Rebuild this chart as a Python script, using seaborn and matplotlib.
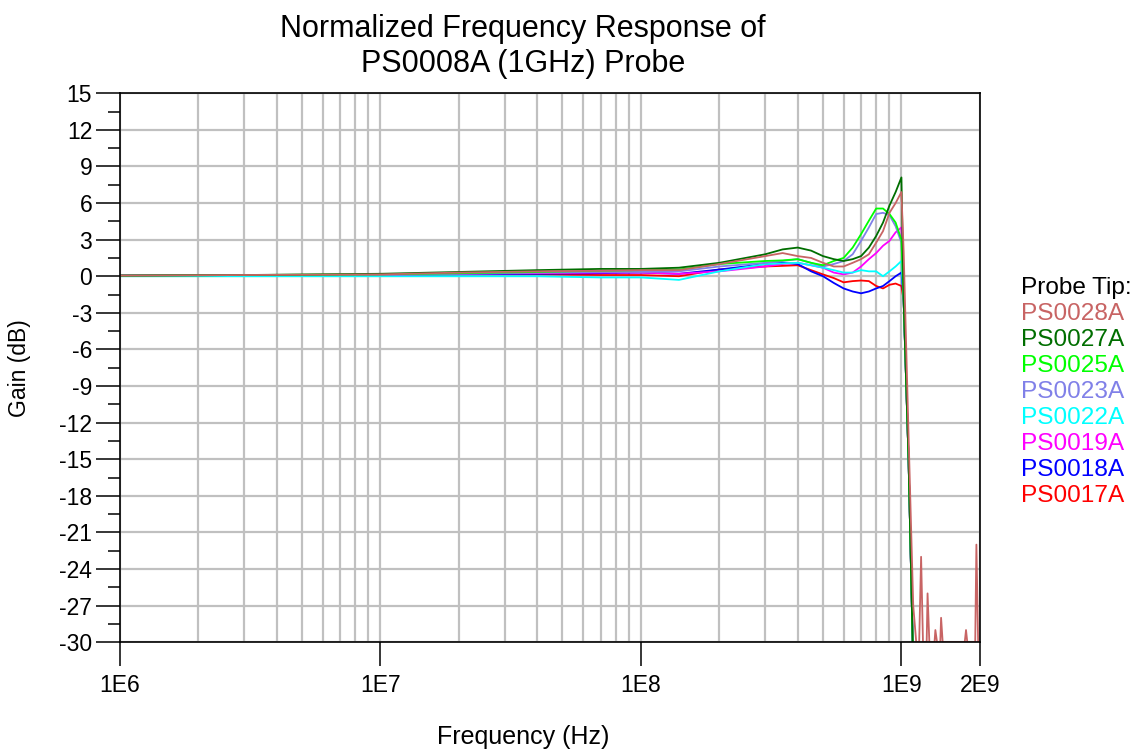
import pandas as pd
import matplotlib
matplotlib.use("Agg")
import matplotlib.pyplot as plt
import matplotlib.ticker as mticker
import seaborn as sns

# frequency points (Hz) shared by all probe tips
freq_hz = [1e6, 3e6, 1e7, 2e7, 4e7, 7e7, 1e8, 1.4e8, 2e8, 3e8, 3.5e8, 4e8, 4.5e8,
           5e8, 5.5e8, 6e8, 6.5e8, 7e8, 7.5e8, 8e8, 8.5e8, 9e8, 9.5e8, 1e9,
           1.02e9, 1.065e9, 1.11e9]

# gain (dB)
gain_ps0028a = [0.05, 0.1, 0.15, 0.3, 0.4, 0.45, 0.5, 0.5, 1.0, 1.65, 1.9, 1.65, 1.5,
                1.1, 0.8, 0.8, 1.1, 1.4, 1.8, 2.75, 3.7, 5.2, 6.0, 6.9,
                2.0, -13.0, -27.0]
gain_ps0027a = [0.05, 0.1, 0.2, 0.35, 0.5, 0.6, 0.6, 0.7, 1.1, 1.8, 2.2, 2.35, 2.1,
                1.65, 1.4, 1.25, 1.4, 1.65, 2.35, 3.3, 4.4, 5.8, 6.9, 8.1,
                -2.0, -15.0, -32.0]
gain_ps0025a = [0.05, 0.1, 0.15, 0.25, 0.35, 0.45, 0.5, 0.55, 1.0, 1.25, 1.3, 1.4, 1.1,
                0.9, 1.25, 1.5, 2.35, 3.45, 4.55, 5.55, 5.55, 5.1, 4.4, 3.0,
                -2.0, -15.0, -32.0]
gain_ps0023a = [0.05, 0.1, 0.1, 0.2, 0.3, 0.35, 0.35, 0.4, 0.8, 1.1, 1.25, 1.4, 1.1,
                0.8, 1.0, 1.25, 1.8, 2.9, 4.0, 5.1, 5.2, 5.0, 4.1, 2.75,
                -2.0, -15.0, -32.0]
gain_ps0022a = [0.0, 0.0, 0.0, 0.0, 0.0, -0.1, -0.1, -0.3, 0.4, 1.0, 1.05, 1.1, 0.9,
                0.7, 0.5, 0.3, 0.3, 0.5, 0.4, 0.4, 0.0, 0.4, 0.8, 1.25,
                -2.0, -15.0, -32.0]
gain_ps0019a = [0.05, 0.1, 0.1, 0.2, 0.25, 0.3, 0.3, 0.2, 0.4, 0.8, 1.0, 1.1, 0.9,
                0.7, 0.3, 0.15, 0.3, 0.8, 1.4, 1.9, 2.5, 2.9, 3.6, 4.0,
                -2.0, -15.0, -32.0]
gain_ps0018a = [0.05, 0.1, 0.1, 0.15, 0.2, 0.25, 0.3, 0.2, 0.55, 1.0, 1.1, 1.0, 0.4,
                0.0, -0.55, -1.0, -1.25, -1.4, -1.25, -1.0, -0.8, -0.4, 0.0, 0.3,
                -2.0, -15.0, -32.0]
gain_ps0017a = [0.05, 0.05, 0.1, 0.15, 0.15, 0.1, 0.1, 0.0, 0.55, 0.8, 0.85, 0.9, 0.5,
                0.15, -0.15, -0.5, -0.4, -0.35, -0.4, -0.8, -1.0, -0.7, -0.6, -0.8,
                -2.0, -15.0, -32.0]

# noise floor tail of PS0028A above 1.1 GHz
tail_freq_hz = [1.14e9, 1.17e9, 1.19e9, 1.21e9, 1.25e9, 1.26e9, 1.28e9, 1.34e9, 1.35e9,
                1.37e9, 1.41e9, 1.42e9, 1.44e9, 1.75e9, 1.77e9, 1.79e9, 1.92e9,
                1.94e9, 1.97e9, 2e9]
tail_ps0028a = [-30, -30, -23, -30, -30, -26, -30, -30, -29, -30, -30, -28, -30,
                -30, -29, -30, -30, -22, -30, -30]

probes = ["PS0028A", "PS0027A", "PS0025A", "PS0023A",
          "PS0022A", "PS0019A", "PS0018A", "PS0017A"]
colors = ["#c86464", "#006e00", "#00ff00", "#8080e8",
          "#00ffff", "#ff00ff", "#0000ff", "#ff0000"]
gains = [gain_ps0028a, gain_ps0027a, gain_ps0025a, gain_ps0023a,
         gain_ps0022a, gain_ps0019a, gain_ps0018a, gain_ps0017a]

x_ticks = [1e6, 1e7, 1e8, 1e9, 2e9]
x_ticklabels = ["1E6", "1E7", "1E8", "1E9", "2E9"]

frames = []
for name, g in zip(probes, gains):
    fx = list(freq_hz)
    gy = list(g)
    if name == "PS0028A":
        fx += tail_freq_hz
        gy += tail_ps0028a
    frames.append(pd.DataFrame({"freq": fx, "gain": gy, "probe": name}))
df = pd.concat(frames, ignore_index=True)

sns.set_style("ticks")
plt.rcParams["font.family"] = ["Liberation Sans", "DejaVu Sans"]
plt.rcParams["axes.unicode_minus"] = False
for key in ["text.color", "axes.labelcolor", "xtick.color", "ytick.color"]:
    plt.rcParams[key] = "black"

fig = plt.figure(figsize=(11.42, 7.52), dpi=100)
ax = fig.add_axes([0.105, 0.146, 0.753, 0.730])

# draw with the last probe at the bottom so PS0028A ends up on top
draw_order = probes[::-1]
sns.lineplot(data=df, x="freq", y="gain", hue="probe", hue_order=draw_order,
             palette=dict(zip(probes, colors)), estimator=None, sort=False,
             linewidth=1.3, ax=ax, legend=False)

ax.set_xscale("log")
ax.set_xlim(1e6, 2e9)
ax.set_ylim(-30, 15)

ax.set_xticks(x_ticks)
ax.set_xticklabels(x_ticklabels)
ax.xaxis.set_minor_locator(mticker.LogLocator(base=10, subs=range(2, 10), numticks=20))
ax.xaxis.set_minor_formatter(mticker.NullFormatter())
ax.yaxis.set_major_locator(mticker.MultipleLocator(3))
ax.yaxis.set_minor_locator(mticker.MultipleLocator(1.5))

ax.grid(True, which="major", axis="both", color="#c0c0c0", linewidth=1.6)
ax.grid(True, which="minor", axis="x", color="#c0c0c0", linewidth=1.6)
ax.set_axisbelow(True)

ax.tick_params(axis="both", which="major", direction="out", length=17, width=1.1,
               labelsize=16.5, pad=3, color="black")
ax.tick_params(axis="x", which="major", pad=6)
ax.tick_params(axis="y", which="minor", direction="out", length=9, width=1.1)
ax.tick_params(axis="x", which="minor", length=0)
for sp in ax.spines.values():
    sp.set_color("black")
    sp.set_linewidth(1.2)

ax.set_xlabel("Frequency (Hz)", fontsize=18)
ax.xaxis.set_label_coords(0.469, -0.150)
ax.set_ylabel("Gain (dB)", fontsize=16.5, labelpad=20)
ax.set_title("Normalized Frequency Response of\nPS0008A (1GHz) Probe",
             fontsize=22, x=0.469, pad=15, linespacing=1.22)

# legend: coloured labels only, no line handles
handles = [plt.Line2D([], [], color=c) for c in colors]
leg = ax.legend(handles, probes, title="Probe Tip:", loc="upper left",
                bbox_to_anchor=(1.037, 0.683), frameon=False, handlelength=0,
                handletextpad=0, labelspacing=0.16, fontsize=17.6, title_fontsize=17.6,
                borderaxespad=0)
leg._legend_box.align = "left"
for txt, c, h in zip(leg.get_texts(), colors, leg.legend_handles):
    txt.set_color(c)
    h.set_visible(False)

fig.savefig("out.png", dpi=100)
